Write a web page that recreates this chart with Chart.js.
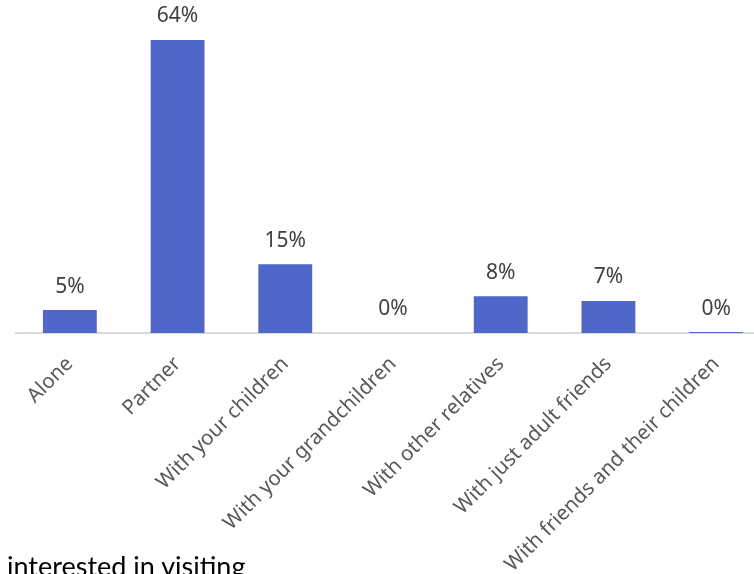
<!DOCTYPE html>
<html>
<head>
<meta charset="utf-8">
<script src="https://cdn.jsdelivr.net/npm/chart.js@4/dist/chart.umd.min.js"></script>
<style>
  html, body { margin: 0; padding: 0; background: #ffffff; overflow: hidden; }
  #wrap { position: relative; width: 754px; height: 574px; overflow: hidden; }
  #chart { position: absolute; left: 0; top: 0; }
  #caption {
    position: absolute; left: 7px; top: 549px;
    font-family: Lato, "Open Sans", sans-serif; font-size: 27px; color: #000000;
    white-space: nowrap;
  }
</style>
</head>
<body>
<div id="wrap">
  <canvas id="chart" width="770" height="574"></canvas>
  <div id="caption">interested in visiting</div>
</div>
<script>
// Who people would travel with
const categories = [
  "Alone",
  "Partner",
  "With your children",
  "With your grandchildren",
  "With other relatives",
  "With just adult friends",
  "With friends and their children"
];
const shares = [5, 64, 15, 0, 8, 7, 0.2];

const barColor = "#4F67C9";
const labelColor = "#404040";
const fontFamily = "Noto Sans";

// Writes the rounded percentage above each bar
const valueLabels = {
  id: "valueLabels",
  afterDatasetsDraw(chart) {
    const ctx = chart.ctx;
    const meta = chart.getDatasetMeta(0);
    ctx.save();
    ctx.font = "21px '" + fontFamily + "'";
    ctx.fillStyle = labelColor;
    ctx.textAlign = "center";
    ctx.textBaseline = "bottom";
    meta.data.forEach((bar, i) => {
      const v = chart.data.datasets[0].data[i];
      ctx.fillText(Math.round(v) + "%", bar.x, bar.y - 13);
    });
    ctx.restore();
  }
};

new Chart(document.getElementById("chart"), {
  type: "bar",
  data: {
    labels: categories,
    datasets: [{
      data: shares,
      backgroundColor: barColor,
      borderWidth: 0,
      categoryPercentage: 1,
      barPercentage: 0.5
    }]
  },
  options: {
    responsive: false,
    animation: false,
    layout: { padding: { left: 16, top: 12.5, right: 0, bottom: 0 } },
    plugins: { legend: { display: false }, tooltip: { enabled: false } },
    scales: {
      y: { display: false, min: 0, max: 70 },
      x: {
        grid: { display: false, drawTicks: false },
        border: { display: true, color: "#D9D9D9", width: 2 },
        ticks: {
          color: "#595959",
          font: { family: fontFamily, size: 20.5 },
          minRotation: 45,
          maxRotation: 45,
          autoSkip: false,
          padding: 19
        },
        afterFit(scale) { scale.height = 241; }
      }
    }
  },
  plugins: [valueLabels]
});
</script>
</body>
</html>
